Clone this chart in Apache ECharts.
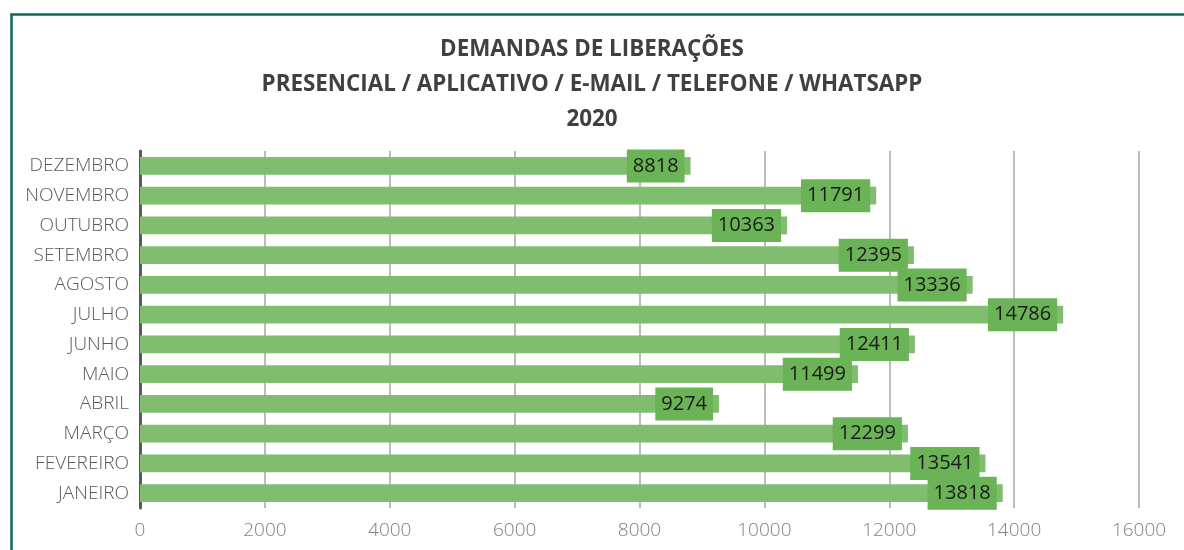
<!DOCTYPE html>
<html><head><meta charset="utf-8">
<script src="https://cdn.jsdelivr.net/npm/echarts@6/dist/echarts.min.js"></script>
<style>html,body{margin:0;padding:0;background:#fff}#c{width:1184px;height:550px}</style>
</head><body><div id="c"></div>
<script>
const titleLines = ['DEMANDAS DE LIBERAÇÕES', 'PRESENCIAL / APLICATIVO / E-MAIL / TELEFONE / WHATSAPP', '2020'];
const months = ['JANEIRO','FEVEREIRO','MARÇO','ABRIL','MAIO','JUNHO','JULHO','AGOSTO','SETEMBRO','OUTUBRO','NOVEMBRO','DEZEMBRO'];
const values = [13818, 13541, 12299, 9274, 11499, 12411, 14786, 13336, 12395, 10363, 11791, 8818];
const xTicks = [0, 2000, 4000, 6000, 8000, 10000, 12000, 14000, 16000];

const chart = echarts.init(document.getElementById('c'), null, {renderer: 'canvas'});
chart.setOption({
  animation: false,
  backgroundColor: '#ffffff',
  graphic: [{
    type: 'rect', left: 9, top: 12, shape: {width: 1200, height: 600},
    style: {fill: 'none', stroke: '#0f6a5a', lineWidth: 2.5}, z: 100
  }],
  title: {
    text: titleLines.join('\n'),
    left: 'center', top: 27, padding: [5, 5, 5, 25],
    textStyle: {fontFamily: 'Open Sans', fontWeight: 'bold', fontSize: 22.4, color: '#404040', lineHeight: 35}
  },
  grid: {left: 140, right: 45, top: 151, bottom: 42, containLabel: false},
  xAxis: {
    type: 'value', min: xTicks[0], max: xTicks[xTicks.length - 1], interval: 2000,
    axisLine: {show: false}, axisTick: {show: false},
    splitLine: {show: true, lineStyle: {color: '#a6a6a6', width: 1.5}},
    axisLabel: {fontFamily: 'Open Sans', fontSize: 19, color: '#7f7f7f', margin: 13, fontWeight: 300,
      formatter: v => String(v)}
  },
  yAxis: {
    type: 'category', data: months,
    axisLine: {show: true, lineStyle: {color: '#595959', width: 3}},
    axisTick: {show: false},
    axisLabel: {fontFamily: 'Open Sans', fontSize: 19, color: '#595959', margin: 11, fontWeight: 300}
  },
  series: [{
    type: 'bar', data: values, barWidth: '60%',
    itemStyle: {color: '#80bd6e'},
    label: {
      show: true, position: 'insideRight', distance: 6,
      backgroundColor: '#6ab356', padding: [7, 6, 6, 6],
      fontFamily: 'Open Sans', fontSize: 20, color: '#1a1a1a'
    }
  }]
});
</script></body></html>
